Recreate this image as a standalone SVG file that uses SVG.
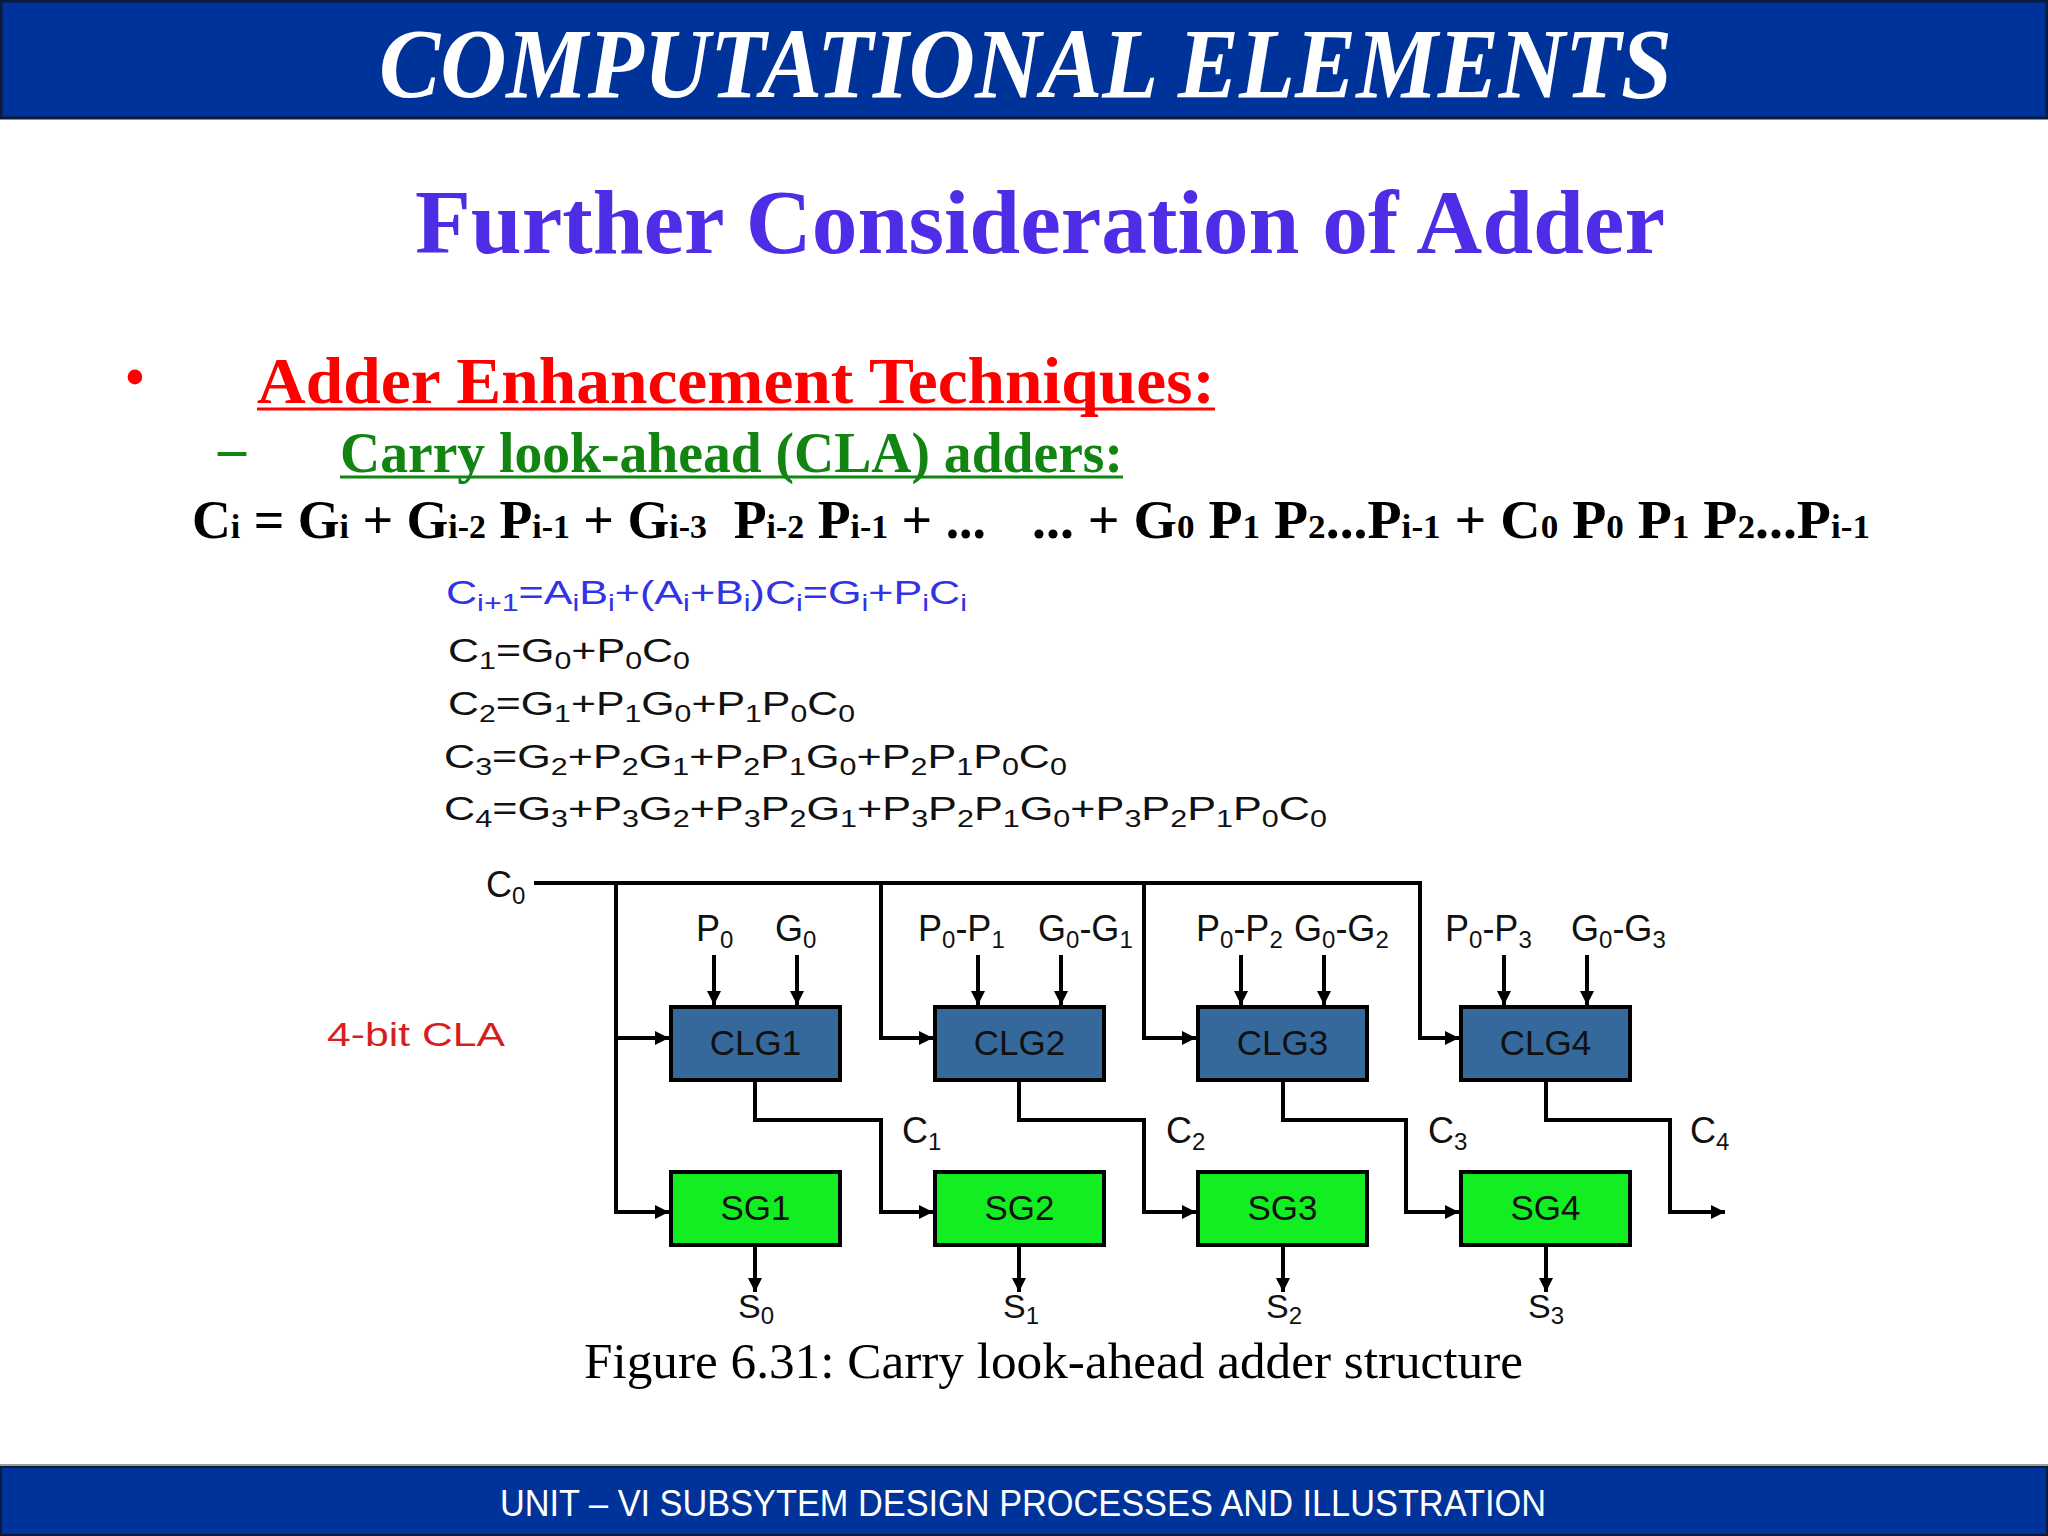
<svg xmlns="http://www.w3.org/2000/svg" width="2048" height="1536" viewBox="0 0 2048 1536">
<defs>
<style>
.serif{font-family:"Liberation Serif","Times New Roman",serif;font-weight:bold}
.sans{font-family:"Liberation Sans",Arial,sans-serif}
.eq{font-family:"Liberation Sans",Arial,sans-serif;font-size:34px;fill:#111}
.eqb{fill:#3333E6}
.s{font-size:24px}
.es{font-size:34px}
.lbl{font-family:"Liberation Sans",Arial,sans-serif;font-size:36px;fill:#111}
.wire{fill:none;stroke:#000;stroke-width:4;stroke-linejoin:miter}
.clg{fill:#35689B;stroke:#000;stroke-width:4}
.sg{fill:#12EE22;stroke:#000;stroke-width:4}
.box-t{font-family:"Liberation Sans",Arial,sans-serif;font-size:35px;fill:#111;text-anchor:middle}
</style>
<marker id="ah" viewBox="0 0 10 10" refX="10" refY="5" markerWidth="15" markerHeight="14" markerUnits="userSpaceOnUse" orient="auto">
<path d="M0,0 L10,5 L0,10 z" fill="#000"/>
</marker>
</defs>
<rect x="0" y="0" width="2048" height="1536" fill="#fff"/>

<g id="header">
<rect x="1" y="1" width="2046" height="117" fill="#003399" stroke="#0a1a3a" stroke-width="3"/>
<text x="379" y="97" class="serif" font-style="italic" font-size="100" fill="#fff" textLength="1293" lengthAdjust="spacingAndGlyphs">COMPUTATIONAL ELEMENTS</text>
</g>

<g id="title">
<text x="415" y="253" class="serif" font-size="90" fill="#4F2CE6" textLength="1250" lengthAdjust="spacingAndGlyphs">Further Consideration of Adder</text>
</g>

<g id="bullets">
<text x="135" y="395" class="serif" font-size="54" fill="#FF0000" text-anchor="middle">•</text>
<text x="257" y="403" class="serif" font-size="66" fill="#FF0000" textLength="958" lengthAdjust="spacingAndGlyphs">Adder Enhancement Techniques:</text>
<line x1="257" y1="409" x2="1215" y2="409" stroke="#FF0000" stroke-width="3"/>
<text x="218" y="467" class="serif" font-size="56" fill="#128412" font-weight="normal">–</text>
<text x="340" y="472" class="serif" font-size="57" fill="#128412" textLength="783" lengthAdjust="spacingAndGlyphs">Carry look-ahead (CLA) adders:</text>
<line x1="340" y1="477" x2="1123" y2="477" stroke="#128412" stroke-width="3"/>
</g>

<g id="general-equation" class="serif" font-size="54" fill="#000">
<text x="192" y="538" xml:space="preserve" textLength="794" lengthAdjust="spacingAndGlyphs">C<tspan class="es">i</tspan> = G<tspan class="es">i</tspan> + G<tspan class="es">i-2</tspan> P<tspan class="es">i-1</tspan> + G<tspan class="es">i-3</tspan>  P<tspan class="es">i-2</tspan> P<tspan class="es">i-1</tspan> + ...</text>
<text x="1032" y="538" xml:space="preserve" textLength="838" lengthAdjust="spacingAndGlyphs">... + G<tspan class="es">0</tspan> P<tspan class="es">1</tspan> P<tspan class="es">2</tspan>...P<tspan class="es">i-1</tspan> + C<tspan class="es">0</tspan> P<tspan class="es">0</tspan> P<tspan class="es">1</tspan> P<tspan class="es">2</tspan>...P<tspan class="es">i-1</tspan></text>
</g>

<g id="equations">
<text x="446" y="604" class="eq eqb" textLength="521" lengthAdjust="spacingAndGlyphs">C<tspan class="s" dy="7">i+1</tspan><tspan dy="-7">=A</tspan><tspan class="s" dy="7">i</tspan><tspan dy="-7">B</tspan><tspan class="s" dy="7">i</tspan><tspan dy="-7">+(A</tspan><tspan class="s" dy="7">i</tspan><tspan dy="-7">+B</tspan><tspan class="s" dy="7">i</tspan><tspan dy="-7">)C</tspan><tspan class="s" dy="7">i</tspan><tspan dy="-7">=G</tspan><tspan class="s" dy="7">i</tspan><tspan dy="-7">+P</tspan><tspan class="s" dy="7">i</tspan><tspan dy="-7">C</tspan><tspan class="s" dy="7">i</tspan></text>
<text x="448" y="662" class="eq" textLength="242" lengthAdjust="spacingAndGlyphs">C<tspan class="s" dy="7">1</tspan><tspan dy="-7">=G</tspan><tspan class="s" dy="7">0</tspan><tspan dy="-7">+P</tspan><tspan class="s" dy="7">0</tspan><tspan dy="-7">C</tspan><tspan class="s" dy="7">0</tspan></text>
<text x="448" y="715" class="eq" textLength="407" lengthAdjust="spacingAndGlyphs">C<tspan class="s" dy="7">2</tspan><tspan dy="-7">=G</tspan><tspan class="s" dy="7">1</tspan><tspan dy="-7">+P</tspan><tspan class="s" dy="7">1</tspan><tspan dy="-7">G</tspan><tspan class="s" dy="7">0</tspan><tspan dy="-7">+P</tspan><tspan class="s" dy="7">1</tspan><tspan dy="-7">P</tspan><tspan class="s" dy="7">0</tspan><tspan dy="-7">C</tspan><tspan class="s" dy="7">0</tspan></text>
<text x="444" y="768" class="eq" textLength="623" lengthAdjust="spacingAndGlyphs">C<tspan class="s" dy="7">3</tspan><tspan dy="-7">=G</tspan><tspan class="s" dy="7">2</tspan><tspan dy="-7">+P</tspan><tspan class="s" dy="7">2</tspan><tspan dy="-7">G</tspan><tspan class="s" dy="7">1</tspan><tspan dy="-7">+P</tspan><tspan class="s" dy="7">2</tspan><tspan dy="-7">P</tspan><tspan class="s" dy="7">1</tspan><tspan dy="-7">G</tspan><tspan class="s" dy="7">0</tspan><tspan dy="-7">+P</tspan><tspan class="s" dy="7">2</tspan><tspan dy="-7">P</tspan><tspan class="s" dy="7">1</tspan><tspan dy="-7">P</tspan><tspan class="s" dy="7">0</tspan><tspan dy="-7">C</tspan><tspan class="s" dy="7">0</tspan></text>
<text x="444" y="820" class="eq" textLength="883" lengthAdjust="spacingAndGlyphs">C<tspan class="s" dy="7">4</tspan><tspan dy="-7">=G</tspan><tspan class="s" dy="7">3</tspan><tspan dy="-7">+P</tspan><tspan class="s" dy="7">3</tspan><tspan dy="-7">G</tspan><tspan class="s" dy="7">2</tspan><tspan dy="-7">+P</tspan><tspan class="s" dy="7">3</tspan><tspan dy="-7">P</tspan><tspan class="s" dy="7">2</tspan><tspan dy="-7">G</tspan><tspan class="s" dy="7">1</tspan><tspan dy="-7">+P</tspan><tspan class="s" dy="7">3</tspan><tspan dy="-7">P</tspan><tspan class="s" dy="7">2</tspan><tspan dy="-7">P</tspan><tspan class="s" dy="7">1</tspan><tspan dy="-7">G</tspan><tspan class="s" dy="7">0</tspan><tspan dy="-7">+P</tspan><tspan class="s" dy="7">3</tspan><tspan dy="-7">P</tspan><tspan class="s" dy="7">2</tspan><tspan dy="-7">P</tspan><tspan class="s" dy="7">1</tspan><tspan dy="-7">P</tspan><tspan class="s" dy="7">0</tspan><tspan dy="-7">C</tspan><tspan class="s" dy="7">0</tspan></text>
</g>

<g id="label-4bit">
<text x="327" y="1046" class="sans" font-size="34" fill="#D71E1E" textLength="178" lengthAdjust="spacingAndGlyphs">4-bit CLA</text>
</g>

<g id="connectors">
<path class="wire" d="M534,883 H1420 V1038 H1459" marker-end="url(#ah)"/>
<path class="wire" d="M616,883 V1212 H669" marker-end="url(#ah)"/>
<path class="wire" d="M616,1038 H669" marker-end="url(#ah)"/>
<path class="wire" d="M881,883 V1038 H933" marker-end="url(#ah)"/>
<path class="wire" d="M1144,883 V1038 H1196" marker-end="url(#ah)"/>
<path class="wire" d="M714,955 V1005" marker-end="url(#ah)"/>
<path class="wire" d="M797,955 V1005" marker-end="url(#ah)"/>
<path class="wire" d="M978,955 V1005" marker-end="url(#ah)"/>
<path class="wire" d="M1061,955 V1005" marker-end="url(#ah)"/>
<path class="wire" d="M1241,955 V1005" marker-end="url(#ah)"/>
<path class="wire" d="M1324,955 V1005" marker-end="url(#ah)"/>
<path class="wire" d="M1504,955 V1005" marker-end="url(#ah)"/>
<path class="wire" d="M1587,955 V1005" marker-end="url(#ah)"/>
<path class="wire" d="M755,1080 V1120 H881 V1212 H933" marker-end="url(#ah)"/>
<path class="wire" d="M1019,1080 V1120 H1144 V1212 H1196" marker-end="url(#ah)"/>
<path class="wire" d="M1283,1080 V1120 H1406 V1212 H1459" marker-end="url(#ah)"/>
<path class="wire" d="M1546,1080 V1120 H1670 V1212 H1725" marker-end="url(#ah)"/>
<path class="wire" d="M755,1245 V1292" marker-end="url(#ah)"/>
<path class="wire" d="M1019,1245 V1292" marker-end="url(#ah)"/>
<path class="wire" d="M1283,1245 V1292" marker-end="url(#ah)"/>
<path class="wire" d="M1546,1245 V1292" marker-end="url(#ah)"/>
</g>

<g id="signal-labels" class="lbl">
<text x="486" y="897">C<tspan class="s" dy="7">0</tspan></text>
<text x="696" y="941">P<tspan class="s" dy="7">0</tspan></text>
<text x="775" y="941">G<tspan class="s" dy="7">0</tspan></text>
<text x="918" y="941">P<tspan class="s" dy="7">0</tspan><tspan dy="-7">-P</tspan><tspan class="s" dy="7">1</tspan></text>
<text x="1038" y="941">G<tspan class="s" dy="7">0</tspan><tspan dy="-7">-G</tspan><tspan class="s" dy="7">1</tspan></text>
<text x="1196" y="941">P<tspan class="s" dy="7">0</tspan><tspan dy="-7">-P</tspan><tspan class="s" dy="7">2</tspan></text>
<text x="1294" y="941">G<tspan class="s" dy="7">0</tspan><tspan dy="-7">-G</tspan><tspan class="s" dy="7">2</tspan></text>
<text x="1445" y="941">P<tspan class="s" dy="7">0</tspan><tspan dy="-7">-P</tspan><tspan class="s" dy="7">3</tspan></text>
<text x="1571" y="941">G<tspan class="s" dy="7">0</tspan><tspan dy="-7">-G</tspan><tspan class="s" dy="7">3</tspan></text>
<text x="902" y="1143">C<tspan class="s" dy="7">1</tspan></text>
<text x="1166" y="1143">C<tspan class="s" dy="7">2</tspan></text>
<text x="1428" y="1143">C<tspan class="s" dy="7">3</tspan></text>
<text x="1690" y="1143">C<tspan class="s" dy="7">4</tspan></text>
<text x="738" y="1318" font-size="34">S<tspan class="s" dy="6">0</tspan></text>
<text x="1003" y="1318" font-size="34">S<tspan class="s" dy="6">1</tspan></text>
<text x="1266" y="1318" font-size="34">S<tspan class="s" dy="6">2</tspan></text>
<text x="1528" y="1318" font-size="34">S<tspan class="s" dy="6">3</tspan></text>
</g>

<g id="CLG1"><rect class="clg" x="671" y="1007" width="169" height="73"/><text class="box-t" x="755.5" y="1055">CLG1</text></g>
<g id="CLG2"><rect class="clg" x="935" y="1007" width="169" height="73"/><text class="box-t" x="1019.5" y="1055">CLG2</text></g>
<g id="CLG3"><rect class="clg" x="1198" y="1007" width="169" height="73"/><text class="box-t" x="1282.5" y="1055">CLG3</text></g>
<g id="CLG4"><rect class="clg" x="1461" y="1007" width="169" height="73"/><text class="box-t" x="1545.5" y="1055">CLG4</text></g>
<g id="SG1"><rect class="sg" x="671" y="1172" width="169" height="73"/><text class="box-t" x="755.5" y="1220">SG1</text></g>
<g id="SG2"><rect class="sg" x="935" y="1172" width="169" height="73"/><text class="box-t" x="1019.5" y="1220">SG2</text></g>
<g id="SG3"><rect class="sg" x="1198" y="1172" width="169" height="73"/><text class="box-t" x="1282.5" y="1220">SG3</text></g>
<g id="SG4"><rect class="sg" x="1461" y="1172" width="169" height="73"/><text class="box-t" x="1545.5" y="1220">SG4</text></g>

<g id="caption">
<text x="584" y="1378" font-family="Liberation Serif, Times New Roman, serif" font-size="50" fill="#000" textLength="939" lengthAdjust="spacingAndGlyphs">Figure 6.31: Carry look-ahead adder structure</text>
</g>

<g id="footer">
<line x1="0" y1="1465" x2="2048" y2="1465" stroke="#9a9a9a" stroke-width="2"/>
<rect x="1" y="1467" width="2046" height="68" fill="#003399" stroke="#0a1a3a" stroke-width="2"/>
<text x="500" y="1516" class="sans" font-size="36" fill="#fff" textLength="1046" lengthAdjust="spacingAndGlyphs">UNIT – VI SUBSYTEM DESIGN PROCESSES AND ILLUSTRATION</text>
</g>
</svg>
